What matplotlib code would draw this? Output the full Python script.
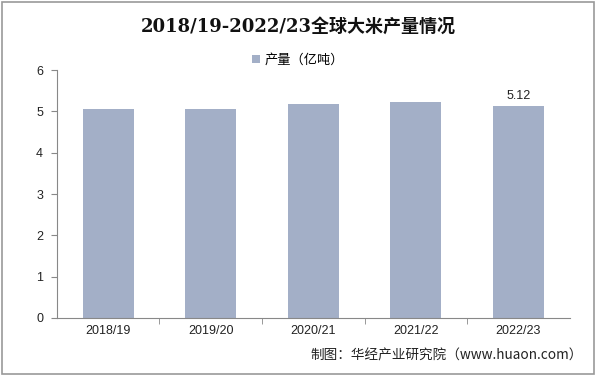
import matplotlib
matplotlib.use("Agg")
import matplotlib.pyplot as plt
from matplotlib.patches import Rectangle

plt.rcParams['font.family'] = ['Liberation Sans', 'Noto Sans CJK SC', 'DejaVu Sans']

categories = ["2018/19", "2019/20", "2020/21", "2021/22", "2022/23"]
values = [5.07, 5.05, 5.19, 5.24, 5.12]
series_name = "产量（亿吨）"
title = "2018/19-2022/23全球大米产量情况"
source = "制图：华经产业研究院（www.huaon.com）"

fig = plt.figure(figsize=(5.96, 3.75), dpi=100)
ax = fig.add_axes([0.0956, 0.152, 0.860, 0.661])

x = range(len(categories))
bars = ax.bar(x, values, width=0.5, color="#A3AFC7", label=series_name, zorder=2)
ax.text(len(categories) - 1, values[-1] + 0.12, f"{values[-1]:.2f}", ha="center", va="bottom",
        fontsize=9, color="#222222")

ax.set_xlim(-0.5, len(categories) - 0.5)
ax.set_ylim(0, 6)
ax.set_yticks(range(0, 7))
ax.set_xticks(list(x))
ax.set_xticklabels(categories)
ax.set_xticks([i + 0.5 for i in range(len(categories) - 1)], minor=True)
ax.tick_params(axis="x", which="major", length=0, labelsize=9, colors="#222222", pad=5)
ax.tick_params(axis="x", which="minor", length=4, color="#888888", direction="out")
ax.tick_params(axis="y", length=4, color="#888888", labelsize=9, labelcolor="#222222", pad=6)
for s in ["top", "right"]:
    ax.spines[s].set_visible(False)
for s in ["left", "bottom"]:
    ax.spines[s].set_color("#888888")
    ax.spines[s].set_linewidth(0.8)

fig.text(0.5, 0.928, title, ha="center", va="center", fontsize=13, fontweight="bold",
         family=["DejaVu Serif", "Noto Sans CJK SC"], color="#111111")
leg = fig.legend(handles=[bars], labels=[series_name], loc="center", bbox_to_anchor=(0.5, 0.84),
                 frameon=False, handlelength=0.6, handleheight=0.6, handletextpad=0.3,
                 prop={"family": ["Noto Sans CJK SC"], "size": 9.5})
fig.text(0.978, 0.052, source, ha="right", va="center", color="#222222",
         family=["Noto Sans CJK SC", "DejaVu Sans"], fontsize=9.8)

fig.add_artist(Rectangle((0.003, 0.004), 0.994, 0.992, transform=fig.transFigure, fill=False,
                         edgecolor="#999999", linewidth=1.2))

fig.savefig("out.png", dpi=100)
